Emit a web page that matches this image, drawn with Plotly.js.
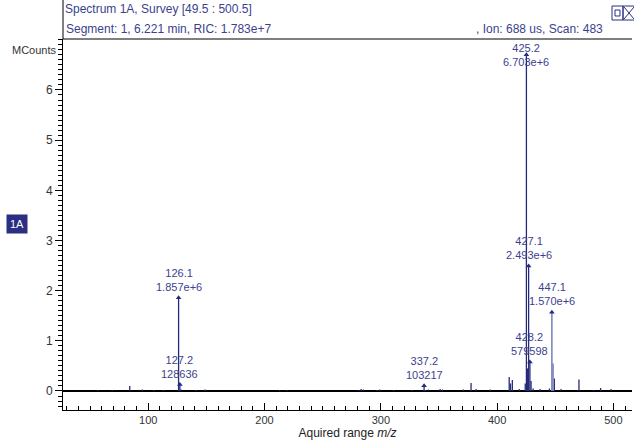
<!DOCTYPE html>
<html>
<head>
<meta charset="utf-8">
<script src="https://cdn.plot.ly/plotly-3.0.1.min.js"></script>
<style>
html,body{margin:0;padding:0;background:#fff;}
#chart{width:634px;height:442px;}
</style>
</head>
<body>
<div id="chart"></div>
<script>
// Spectrum peaks (m/z, intensity in MCounts)
const peakMz = [57, 69, 84.1, 95, 105, 113, 126.1, 127.2, 128.2, 141, 149, 213, 219, 281, 283, 285, 297, 299, 311, 327, 337.2, 338.2, 341, 351, 353, 371, 377.6, 382, 394, 410.4, 411.5, 413.1, 419, 424.2, 425.2, 426.2, 427.1, 428.2, 429.2, 431, 437, 445, 449.2, 455, 470.4, 483, 489, 498];
const peakInt = [0.02, 0.02, 0.10, 0.03, 0.02, 0.02, 1.857, 0.1286, 0.03, 0.02, 0.03, 0.02, 0.02, 0.02, 0.04, 0.03, 0.02, 0.03, 0.02, 0.02, 0.1032, 0.02, 0.03, 0.04, 0.03, 0.03, 0.16, 0.04, 0.03, 0.28, 0.15, 0.22, 0.04, 0.15, 6.703, 0.45, 2.493, 0.5796, 0.2, 0.05, 0.04, 0.05, 0.25, 0.04, 0.23, 0.02, 0.06, 0.04];
// lighter-drawn peaks
const lightMz = [447.1, 448.1];
const lightInt = [1.570, 0.55];

// labelled peaks
const labelMz = [126.1, 127.2, 337.2, 425.2, 427.1, 428.2, 447.1];
const labelInt = [1.857, 0.1286, 0.1032, 6.703, 2.493, 0.5796, 1.570];
const labelText = ["1.857e+6", "128636", "103217", "6.703e+6", "2.493e+6", "579598", "1.570e+6"];

const yTicks = [0, 1, 2, 3, 4, 5, 6];
const xTicks = [100, 200, 300, 400, 500];

function sticks(mz, it) {
  const x = [], y = [];
  mz.forEach((m, i) => { x.push(m, m, null); y.push(0, it[i], null); });
  return {x, y};
}

const navy = '#262a7a';
const txtNavy = '#3c3f8e';
const font = 'Liberation Sans, Arial, sans-serif';

const s1 = sticks(peakMz, peakInt);
const s2 = sticks(lightMz, lightInt);

const traces = [
  {x: s1.x, y: s1.y, type: 'scatter', mode: 'lines', line: {color: navy, width: 1.3}, hoverinfo: 'skip', showlegend: false},
  {x: s2.x, y: s2.y, type: 'scatter', mode: 'lines', line: {color: '#7f84bd', width: 1.6}, hoverinfo: 'skip', showlegend: false},
  {x: labelMz, y: labelInt, type: 'scatter', mode: 'markers', marker: {symbol: 'triangle-up', size: 5, color: navy}, cliponaxis: false, showlegend: false}
];

const annotations = labelMz.map((m, i) => ({
  x: m, y: labelInt[i], xref: 'x', yref: 'y',
  text: m.toFixed(1) + '<br>' + labelText[i],
  showarrow: false,
  yanchor: i === 3 ? 'middle' : 'bottom',
  yshift: i === 3 ? 0 : 3,
  font: {family: font, size: 11, color: txtNavy},
  align: 'center'
}));

// pixel -> paper helpers for header decorations (plot area 63..632 x 39..410)
const px = p => (p - 63) / 569;
const py = p => (410 - p) / 371;

annotations.push(
  {xref: 'paper', yref: 'paper', x: 0, y: 1, xanchor: 'left', yanchor: 'bottom', xshift: 1, yshift: 1,
   text: 'Segment: 1, 6.221 min, RIC: 1.783e+7', showarrow: false,
   font: {family: font, size: 12, color: txtNavy}},
  {xref: 'paper', yref: 'paper', x: px(605), y: 1, xanchor: 'right', yanchor: 'bottom', yshift: 1,
   text: ', Ion: 688 us, Scan: 483', showarrow: false,
   font: {family: font, size: 12, color: txtNavy}},
  {xref: 'paper', yref: 'paper', x: 0, y: py(50), xanchor: 'right', yanchor: 'middle', xshift: -4,
   text: 'MCounts', showarrow: false,
   font: {family: font, size: 11, color: '#333'}},
  {xref: 'paper', yref: 'paper', x: px(28), y: py(224), xanchor: 'right', yanchor: 'middle',
   text: '1A', showarrow: false, bgcolor: '#2b2e82', borderpad: 3,
   font: {family: font, size: 11, color: '#ffffff'}}
);

const iconLine = {color: '#2b2e82', width: 1};
const layout = {
  width: 634, height: 442,
  margin: {l: 63, r: 2, t: 39, b: 32, pad: 0},
  paper_bgcolor: '#ffffff', plot_bgcolor: '#ffffff',
  title: {text: 'Spectrum 1A, Survey [49.5 : 500.5]', x: 0, xref: 'paper', xanchor: 'left', y: 1, yref: 'container', yanchor: 'top', pad: {t: 5, l: 2},
    font: {family: font, size: 12, color: txtNavy}},
  xaxis: {
    range: [26.7, 516], tickvals: xTicks, ticks: 'inside', ticklen: 7, tickwidth: 1, tickcolor: '#000',
    minor: {dtick: 10, ticks: 'inside', ticklen: 4, tickcolor: '#000'},
    showline: true, linecolor: '#000', linewidth: 1, showgrid: false, zeroline: false,
    tickfont: {family: font, size: 11, color: '#333'},
    title: {text: 'Aquired range <i>m/z</i>', standoff: 2, font: {family: font, size: 12, color: '#222'}}
  },
  yaxis: {
    range: [-0.379, 7.016], tickvals: yTicks, ticks: 'outside', ticklen: 7, tickwidth: 1, tickcolor: '#000',
    minor: {dtick: 0.1, ticks: 'outside', ticklen: 4, tickcolor: '#000'},
    showline: true, linecolor: '#000', linewidth: 1, showgrid: false,
    zeroline: true, zerolinecolor: '#000', zerolinewidth: 1.5,
    tickfont: {family: font, size: 12, color: '#333'}
  },
  shapes: [
    {type: 'line', xref: 'paper', yref: 'paper', x0: 0, x1: 1, y0: 1, y1: 1, line: {color: '#000', width: 1.2}},
    {type: 'line', xref: 'paper', yref: 'paper', x0: 0, x1: 0, y0: 1, y1: py(0), line: {color: '#000', width: 1}},
    // window icons
    {type: 'rect', xref: 'paper', yref: 'paper', x0: px(612), x1: px(623), y0: py(20), y1: py(6), line: iconLine},
    {type: 'rect', xref: 'paper', yref: 'paper', x0: px(615), x1: px(620), y0: py(16), y1: py(10), line: iconLine},
    {type: 'rect', xref: 'paper', yref: 'paper', x0: px(623), x1: px(635), y0: py(20), y1: py(6), line: iconLine},
    {type: 'line', xref: 'paper', yref: 'paper', x0: px(624), x1: px(634), y0: py(19), y1: py(7), line: iconLine},
    {type: 'line', xref: 'paper', yref: 'paper', x0: px(624), x1: px(634), y0: py(7), y1: py(19), line: iconLine}
  ],
  annotations: annotations,
  showlegend: false
};

Plotly.newPlot('chart', traces, layout, {displayModeBar: false, staticPlot: true});
</script>
</body>
</html>
